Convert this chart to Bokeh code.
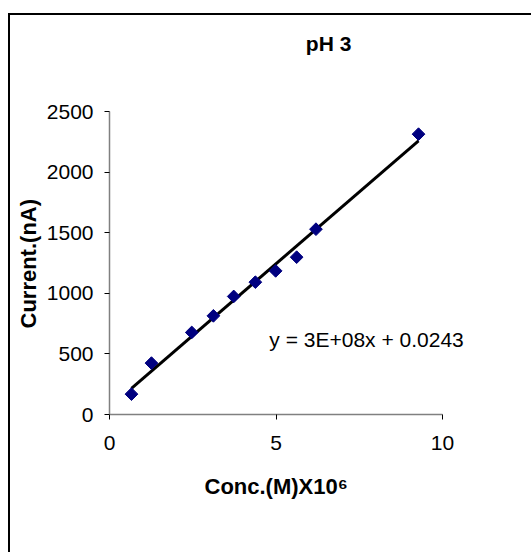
import numpy as np
from bokeh.plotting import figure
from bokeh.models import Range1d, FixedTicker, Label, Title
from bokeh.embed import file_html
from bokeh.resources import INLINE

# Data
conc = [0.66, 1.26, 2.47, 3.12, 3.73, 4.38, 4.99, 5.62, 6.20, 9.28]
current = [168, 424, 677, 814, 974, 1092, 1185, 1298, 1529, 2313]
x_ticks = [0, 5, 10]
y_ticks = [0, 500, 1000, 1500, 2000, 2500]
title_text = "pH 3"
equation_text = "y = 3E+08x + 0.0243"
x_label = "Conc.(M)X10\u2076"
y_label = "Current.(nA)"

FONT = "Liberation Sans"

# pixel scale of the reference: 33.3 px per x unit, 303 px per 2500 y units
FRAME_W, FRAME_H = 422, 399
x_end = FRAME_W / 33.3
y_end = FRAME_H / (303 / 2500)

p = figure(frame_width=FRAME_W, frame_height=FRAME_H,
           min_border_left=99, min_border_right=0,
           min_border_top=0, min_border_bottom=138,
           x_range=Range1d(0, x_end), y_range=Range1d(0, y_end),
           output_backend="svg", toolbar_location=None, tools="")
p.styles = {"border-left": "2px solid black", "border-top": "2px solid black",
            "margin-left": "8px", "margin-top": "13px"}
p.outline_line_color = None
p.xgrid.visible = False
p.ygrid.visible = False
p.background_fill_color = "white"
p.border_fill_color = "white"

for ax in (p.xaxis[0], p.yaxis[0]):
    ax.axis_line_color = "#808080"
    ax.axis_line_width = 1.5
    ax.major_tick_line_color = "black"
    ax.major_tick_line_width = 1
    ax.major_tick_in = 0
    ax.major_tick_out = 5
    ax.minor_tick_line_color = None
    ax.major_label_text_font = FONT
    ax.major_label_text_font_size = "21px"
    ax.major_label_text_color = "black"

p.xaxis[0].ticker = FixedTicker(ticks=x_ticks)
p.yaxis[0].ticker = FixedTicker(ticks=y_ticks)
p.xaxis[0].bounds = (0, 10)
p.yaxis[0].bounds = (0, 2500)
p.xaxis[0].major_label_standoff = 16
p.yaxis[0].major_label_standoff = 11

# axis titles (placed as titles so they can be centred on the axis extent)
p.add_layout(Title(text=x_label, align="left", offset=95, standoff=38,
                   text_font=FONT, text_font_size="22px",
                   text_font_style="bold", text_color="black"), "below")
p.add_layout(Title(text=y_label, align="left", offset=86, standoff=6,
                   text_font=FONT, text_font_size="22px",
                   text_font_style="bold", text_color="black"), "left")

# trend line (least squares fit of the data)
slope, intercept = np.polyfit(conc, current, 1)
fx = [min(conc), max(conc)]
fy = [slope * v + intercept for v in fx]
p.line(fx, fy, line_color="black", line_width=3)

p.scatter(conc, current, marker="square", size=9, angle=np.pi / 4,
          fill_color="#000080", line_color="#000080")

p.add_layout(Label(x=7.72, y=619, text=equation_text, text_font=FONT,
                   text_font_size="21px", text_align="center",
                   text_baseline="middle", text_color="black"))
p.add_layout(Label(x=6.58, y=3061, text=title_text, text_font=FONT,
                   text_font_size="21px", text_font_style="bold",
                   text_align="center", text_baseline="middle",
                   text_color="black"))

open("out.html", "w").write(file_html(p, INLINE))
